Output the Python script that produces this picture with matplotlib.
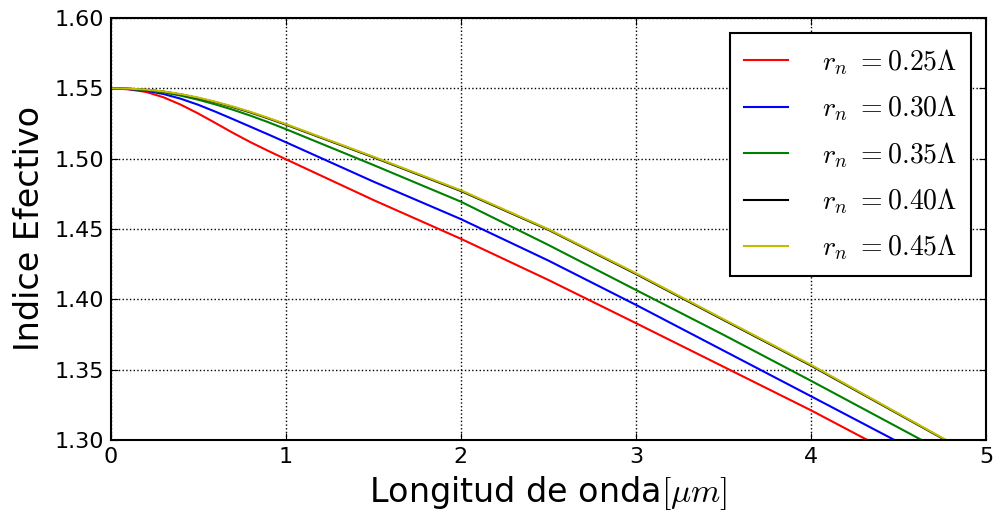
import numpy as np
import matplotlib
matplotlib.use('Agg')
import matplotlib.pyplot as plt

plt.rcParams['mathtext.fontset'] = 'cm'

# Effective index vs wavelength for several hole radii (r_n in units of the pitch)
wl = [0.0, 0.1, 0.2, 0.3, 0.4, 0.5, 0.6, 0.7, 0.8, 0.9, 1.0,
      1.5, 2.0, 2.5, 3.0, 3.5, 4.0]

n_025 = [1.5500, 1.5493, 1.5475, 1.5437, 1.5384, 1.5321, 1.5252, 1.5182, 1.5116, 1.5055, 1.4996,
         1.4706, 1.4430, 1.4137, 1.3830, 1.3520, 1.3210]
n_030 = [1.5500, 1.5495, 1.5483, 1.5460, 1.5426, 1.5383, 1.5333, 1.5280, 1.5226, 1.5172, 1.5117,
         1.4837, 1.4570, 1.4275, 1.3960, 1.3635, 1.3310]
n_035 = [1.5500, 1.5496, 1.5487, 1.5471, 1.5448, 1.5419, 1.5385, 1.5347, 1.5305, 1.5259, 1.5210,
         1.4955, 1.4694, 1.4386, 1.4066, 1.3747, 1.3420]
n_040 = [1.5500, 1.5498, 1.5490, 1.5477, 1.5457, 1.5431, 1.5401, 1.5366, 1.5328, 1.5286, 1.5242,
         1.5010, 1.4770, 1.4494, 1.4180, 1.3853, 1.3528]
n_045 = [1.5500, 1.5498, 1.5491, 1.5478, 1.5459, 1.5434, 1.5404, 1.5370, 1.5332, 1.5290, 1.5246,
         1.5014, 1.4775, 1.4498, 1.4185, 1.3858, 1.3533]

# wavelength where each curve leaves the plotted range (n = 1.30)
wl_end = [4.32, 4.475, 4.63, 4.765, 4.77]

radii = ['0.25', '0.30', '0.35', '0.40', '0.45']
colors = ['r', 'b', 'g', 'k', 'y']
series = [n_025, n_030, n_035, n_040, n_045]

fig = plt.figure(figsize=(9.97, 5.15), dpi=100)
ax = fig.add_axes([0.111, 0.146, 0.878, 0.819])

for r, c, n, xe in zip(radii, colors, series, wl_end):
    ax.plot(wl + [xe], n + [1.30], color=c, lw=1.5,
            label=r'$r_n\ {=}' + r + r'\Lambda$')

ax.set_xlim(0, 5)
ax.set_ylim(1.30, 1.60)
ax.set_xticks(np.arange(0, 6, 1))
yt = np.arange(1.30, 1.601, 0.05)
ax.set_yticks(yt)
ax.set_yticklabels(['%.2f' % v for v in yt])
ax.tick_params(direction='in', labelsize=16, top=True, right=True, length=5, pad=5)
ax.grid(True, color='k', linestyle=':', linewidth=1.0)
for s in ax.spines.values():
    s.set_linewidth(1.5)

ax.set_xlabel(r'Longitud de onda$[\mu m]$', fontsize=24, labelpad=5)
ax.set_ylabel('Indice Efectivo', fontsize=24, labelpad=6)

leg = ax.legend(loc='upper right', fontsize=20, handlelength=1.6, handletextpad=1.2,
                labelspacing=0.6, borderpad=0.5, fancybox=False, framealpha=1,
                borderaxespad=0.55)
leg.get_frame().set_edgecolor('k')
leg.get_frame().set_linewidth(1.5)

fig.savefig('out.png', dpi=100)
